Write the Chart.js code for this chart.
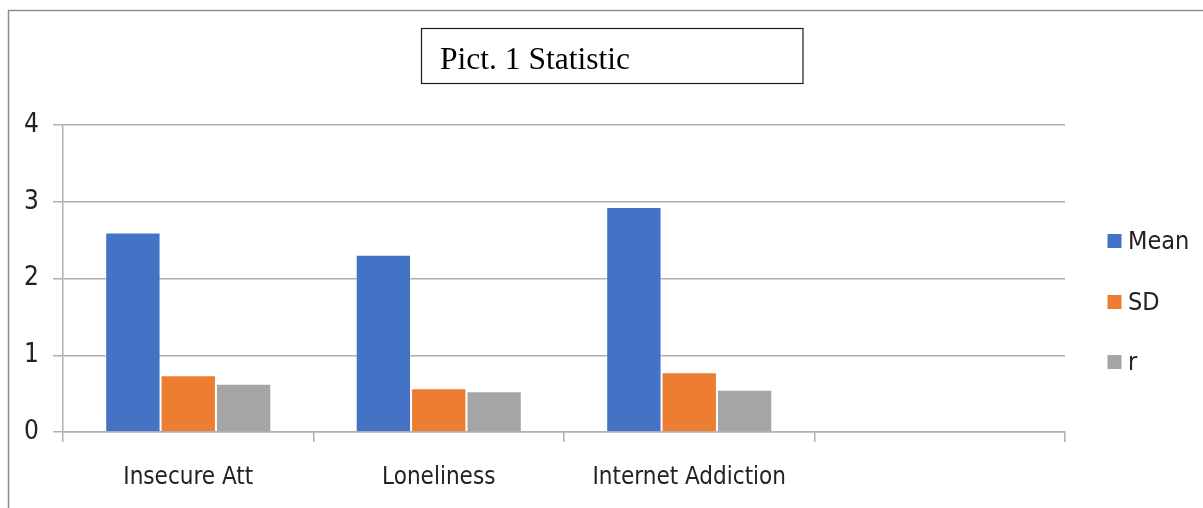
<!DOCTYPE html>
<html>
<head>
<meta charset="utf-8">
<script src="https://cdn.jsdelivr.net/npm/chart.js@4.4.1/dist/chart.umd.min.js"></script>
<style>
  html, body { margin: 0; padding: 0; background: #ffffff; }
  #wrap { width: 1203px; height: 508px; position: relative; }
  canvas { display: block; }
</style>
</head>
<body>
<div id="wrap"><canvas id="chart" width="1203" height="508"></canvas></div>
<script>
// Categories and series
const categories = ['Insecure Att', 'Loneliness', 'Internet Addiction', ''];
const meanValues = [2.60, 2.31, 2.93, null];
const sdValues = [0.74, 0.57, 0.78, null];
const rValues = [0.63, 0.53, 0.55, null];
const yTicks = [0, 1, 2, 3, 4];
const seriesNames = ['Mean', 'SD', 'r'];
const seriesColors = ['#4472C4', '#ED7D31', '#A5A5A5'];
const titleText = 'Pict. 1 Statistic';

const sansFont = "'DejaVu Sans Condensed', 'Liberation Sans', sans-serif";
const serifFont = "'Liberation Serif', 'DejaVu Serif', serif";
const textColor = '#222222';
const gridColor = '#B0B0B0';

// Frame, title box and legend drawn on top of the chart
const decorations = {
  id: 'decorations',
  afterDraw(chart) {
    const ctx = chart.ctx;
    ctx.save();

    // outer frame (top and left edges)
    ctx.strokeStyle = '#8E8E8E';
    ctx.lineWidth = 1.5;
    ctx.beginPath();
    ctx.moveTo(8.5, 508);
    ctx.lineTo(8.5, 10.5);
    ctx.lineTo(1203, 10.5);
    ctx.stroke();

    // title box
    ctx.strokeStyle = '#1a1a1a';
    ctx.lineWidth = 1.2;
    ctx.strokeRect(421.5, 28.5, 381.5, 55);
    ctx.fillStyle = '#000000';
    ctx.font = '31.5px ' + serifFont;
    ctx.textAlign = 'left';
    ctx.textBaseline = 'alphabetic';
    ctx.fillText(titleText, 440, 68.5);

    // legend
    const centers = [241, 302, 362];
    ctx.font = '25px ' + sansFont;
    ctx.textBaseline = 'middle';
    chart.data.datasets.forEach((ds, i) => {
      const cy = centers[i];
      ctx.fillStyle = ds.backgroundColor;
      ctx.fillRect(1107.5, cy - 7, 14, 14);
      ctx.fillStyle = textColor;
      ctx.fillText(ds.label, 1128, cy + 1);
    });
    ctx.restore();
  }
};

const datasets = [meanValues, sdValues, rValues].map((vals, i) => ({
  label: seriesNames[i],
  data: vals,
  backgroundColor: seriesColors[i],
  borderColor: 'rgba(255,255,255,0.3)',
  borderWidth: 1,
  barPercentage: 1.0,
  categoryPercentage: 0.663
}));

new Chart(document.getElementById('chart'), {
  type: 'bar',
  data: { labels: categories, datasets },
  options: {
    responsive: false,
    animation: false,
    events: [],
    layout: { padding: { left: 0, top: 125, right: 138, bottom: 0 } },
    plugins: {
      legend: { display: false },
      title: { display: false },
      tooltip: { enabled: false }
    },
    scales: {
      x: {
        offset: true,
        grid: {
          offset: true,
          drawOnChartArea: false,
          drawTicks: true,
          tickLength: 10,
          color: gridColor,
          lineWidth: 1.5
        },
        border: { display: true, color: gridColor, width: 1.5 },
        ticks: {
          color: textColor,
          font: { family: sansFont, size: 24 },
          padding: 21,
          maxRotation: 0,
          autoSkip: false
        },
        afterFit(scale) { scale.height = 76; }
      },
      y: {
        min: 0,
        max: 4,
        afterBuildTicks(scale) { scale.ticks = yTicks.map(v => ({ value: v })); },
        grid: {
          color: gridColor,
          lineWidth: 1.5,
          drawTicks: true,
          tickLength: 10
        },
        border: { display: true, color: gridColor, width: 1.5 },
        ticks: {
          color: textColor,
          font: { family: sansFont, size: 26 },
          padding: 14
        },
        afterFit(scale) { scale.width = 63; }
      }
    }
  },
  plugins: [decorations]
});
</script>
</body>
</html>
